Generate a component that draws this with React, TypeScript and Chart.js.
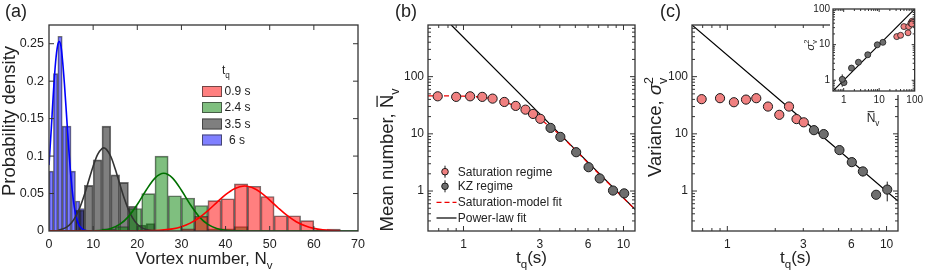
import React, { useEffect, useRef } from 'react';
import { Chart, registerables } from 'chart.js';

Chart.register(...registerables);

const FONT = "'Liberation Sans', Arial, Helvetica, sans-serif";
const INK = '#222222';

// ---------------- Panel (a): histograms (bin left edges, heights) ----------------
const blueBinStart = [0, 1, 2, 3, 4, 5, 6, 7];
const blueBinHeight = [0.08, 0.21, 0.26, 0.14, 0.14, 0.08, 0.04, 0.03];
const blueBinWidth = 1;

const grayBinStart = [6, 8, 10, 12, 14, 16, 18, 20, 22];
const grayBinHeight = [0.028, 0.061, 0.095, 0.14, 0.075, 0.065, 0.033, 0.008, 0.01];
const grayBinWidth = 2;

const greenBinStart = [12, 15, 18, 21, 24, 27, 30, 33, 36, 39, 42];
const greenBinHeight = [0.003, 0.006, 0.03, 0.05, 0.1, 0.047, 0.044, 0.034, 0.003, 0.003, 0.006];
const greenBinWidth = 3;

const redBinStart = [30, 33, 36, 39, 42, 45, 48, 51, 54, 57, 60, 63];
const redBinHeight = [0.003, 0.0195, 0.0405, 0.043, 0.063, 0.0597, 0.046, 0.0204, 0.0204, 0.0138, 0.0015, 0.0025];
const redBinWidth = 3;

// fitted curves
const fitBlueX = [0, 0.5, 1, 1.5, 2, 2.3, 2.7, 3, 3.5, 4, 4.5, 5, 5.5, 6, 6.5, 7, 8, 9, 10, 12];
const fitBlueY = [0.088, 0.135, 0.185, 0.226, 0.249, 0.253, 0.247, 0.232, 0.196, 0.152, 0.108, 0.07, 0.042, 0.023, 0.012, 0.006, 0.001, 0.0002, 0, 0];

const fitGrayX = [2, 4, 5, 6, 7, 8, 9, 10, 11, 12, 12.4, 13, 14, 15, 16, 17, 18, 19, 20, 21, 22, 24, 26];
const fitGrayY = [0.0005, 0.0052, 0.0104, 0.0189, 0.0314, 0.048, 0.0673, 0.0865, 0.102, 0.11, 0.111, 0.109, 0.0994, 0.0828, 0.0633, 0.0444, 0.0286, 0.0168, 0.0091, 0.0045, 0.002, 0.0003, 0];

const fitGreenX = [0, 8, 10, 12, 14, 16, 18, 20, 22, 24, 26, 28, 30, 32, 34, 36, 38, 40, 44, 50, 70];
const fitGreenY = [0, 0, 0.0003, 0.0011, 0.0034, 0.0088, 0.0192, 0.0353, 0.0544, 0.0706, 0.077, 0.0706, 0.0544, 0.0353, 0.0192, 0.0088, 0.0034, 0.0011, 0.0001, 0, 0];

const fitRedX = [0, 20, 25, 28, 30, 32, 34, 36, 38, 40, 42, 44.3, 46, 48, 50, 52, 54, 56, 58, 60, 62, 64, 66];
const fitRedY = [0, 0.0001, 0.0008, 0.0028, 0.0057, 0.0105, 0.0177, 0.0272, 0.038, 0.0485, 0.0565, 0.06, 0.058, 0.0513, 0.0413, 0.0304, 0.0204, 0.0124, 0.007, 0.0035, 0.0016, 0.0007, 0.0003];

const legendA = ['0.9 s', '2.4 s', '3.5 s', '6 s'];
const xTicksA = [0, 10, 20, 30, 40, 50, 60, 70];
const yTicksA = [0, 0.05, 0.1, 0.15, 0.2, 0.25];

// ---------------- Panels (b), (c) ----------------
const tSat = [0.69, 0.9, 1.1, 1.31, 1.52, 1.8, 2.12, 2.44, 2.72, 3.02];
const tKZ = [3.5, 4.03, 5.06, 6.05, 7.1, 8.6, 10.1];
const meanSat = [45.3, 44.3, 45.3, 44.3, 41.3, 36.1, 30.8, 26.5, 22.3, 18.3];
const meanKZ = [12.7, 8.85, 4.77, 2.61, 1.66, 1.02, 0.91];
const varSat = [40.4, 42, 35.7, 39.7, 42, 30, 21.5, 30, 18.1, 15.9];
const varKZ = [11.6, 9.9, 5.2, 3.2, 2.2, 0.86, 1.06];
const varSatErr = [2, 2, 2, 2, 2, 1.5, 1.2, 1.5, 1, 1];
const varKZErr = [0.8, 0.8, 0.7, 0.45, 0.4, 0.08, 0.4];

const fitSatT = [0.6, 0.7, 0.8, 0.9, 1, 1.2, 1.4, 1.6, 1.8, 2.0, 2.2, 2.5, 2.8, 3.0, 3.5, 4, 5, 6, 7, 8, 9, 10, 11.8];
const fitSatN = [46, 46, 46, 45.8, 45.5, 44.5, 42.5, 39.5, 36, 32.5, 29, 24.5, 20.5, 18.2, 13, 9.7, 5.2, 3.1, 2.0, 1.4, 1.0, 0.75, 0.48];

const powerBT = [0.838, 11.8];
const powerBN = [800, 0.477];
const powerCT = [0.6, 11.8];
const powerCV = [800, 0.67];

const insetSatN = [31.3, 40.2, 49.7, 65, 67.9, 78.4, 85, 88.8, 83];
const insetSatVar = [16.8, 18.3, 32.1, 21.5, 32.1, 40.2, 45.6, 42, 38];
const insetKZN = [12.7, 8.85, 4.77, 2.61, 1.66, 1.02, 0.91];
const insetKZVar = [11.6, 9.9, 5.2, 3.2, 2.2, 0.86, 1.06];
const insetKZErr = [0.8, 0.8, 0.7, 0.45, 0.4, 0.08, 0.4];
const insetLineX = [0.5, 100];
const insetLineY = [0.5, 100];

const xTicksLog = [1, 3, 6, 10];
const yTicksLog = [1, 10, 100];
const insetTicks = [1, 10, 100];
const legendB = ['Saturation regime', 'KZ regime', 'Saturation-model fit', 'Power-law fit'];

// ---------------- colours ----------------
const C_RED_BAR = 'rgba(255,0,0,0.5)';
const C_GREEN_BAR = 'rgba(0,128,0,0.5)';
const C_GRAY_BAR = 'rgba(0,0,0,0.5)';
const C_BLUE_BAR = 'rgba(0,0,255,0.5)';
const C_BAR_EDGE = 'rgba(40,40,40,0.65)';
const C_RED_PT = '#f08080';
const C_GRAY_PT = '#6e6e6e';
const C_PT_EDGE = '#1a1a1a';

// ---------------- panel (a) geometry ----------------
const A_LEFT = 49;
const A_RIGHT = 358;
const A_XMIN = 0;
const A_XMAX = 70;
const A_PX_PER_UNIT = (A_RIGHT - A_LEFT) / (A_XMAX - A_XMIN);

// ---------------- helpers ----------------
const pts = (xs: number[], ys: number[]) => xs.map((x, i) => ({ x, y: ys[i] }));
const bars = (starts: number[], heights: number[], w: number) =>
  starts.map((s, i) => ({ x: s + w / 2, y: heights[i] }));

type Seg = { t: string; sub?: boolean; sup?: boolean; bar?: boolean; keep?: boolean; italic?: boolean };

function segFont(s: Seg, size: number) {
  const sz = s.sub || s.sup ? size * 0.68 : size;
  return `${s.italic ? 'italic ' : ''}${sz}px ${FONT}`;
}

function drawRich(ctx: CanvasRenderingContext2D, segs: Seg[], x: number, y: number, size: number, align: 'left' | 'center', rotate = false) {
  ctx.save();
  ctx.translate(x, y);
  if (rotate) ctx.rotate(-Math.PI / 2);
  ctx.textBaseline = 'alphabetic';
  ctx.textAlign = 'left';
  ctx.fillStyle = INK;
  ctx.strokeStyle = INK;
  const widths = segs.map((s) => {
    ctx.font = segFont(s, size);
    return ctx.measureText(s.t).width;
  });
  const adv = (i: number) => Math.max(widths[i], i > 0 && segs[i - 1].keep ? widths[i - 1] : 0);
  let total = 0;
  for (let i = 0; i < segs.length; i++) if (!segs[i].keep) total += adv(i);
  let cx = align === 'center' ? -total / 2 : 0;
  for (let i = 0; i < segs.length; i++) {
    const s = segs[i];
    ctx.font = segFont(s, size);
    const dy = s.sub ? size * 0.3 : s.sup ? -size * 0.42 : 0;
    ctx.fillText(s.t, cx, dy);
    if (s.bar) {
      ctx.beginPath();
      ctx.lineWidth = Math.max(1, size * 0.07);
      ctx.moveTo(cx + 1, -size * 0.86);
      ctx.lineTo(cx + widths[i] - 1, -size * 0.86);
      ctx.stroke();
    }
    if (!s.keep) cx += adv(i);
  }
  ctx.restore();
}

type TickMark = { v: number; len: number };

function logMarks(min: number, max: number, major: number, minor: number): TickMark[] {
  const out: TickMark[] = [];
  for (let e = -2; e <= 3; e++) {
    for (let d = 1; d <= 9; d++) {
      const v = d * Math.pow(10, e);
      if (v > min * 1.0001 && v < max * 0.9999) out.push({ v, len: d === 1 ? major : minor });
    }
  }
  return out;
}

function frameAndTicks(chart: any, xt: TickMark[], yt: TickMark[]) {
  const { ctx, chartArea: a, scales } = chart;
  const sx = scales.x;
  const sy = scales.y;
  ctx.save();
  ctx.strokeStyle = '#333';
  ctx.lineWidth = 1;
  ctx.beginPath();
  for (const t of xt) {
    const p = sx.getPixelForValue(t.v);
    if (p <= a.left + 1 || p >= a.right - 1) continue;
    ctx.moveTo(p, a.bottom);
    ctx.lineTo(p, a.bottom - t.len);
    ctx.moveTo(p, a.top);
    ctx.lineTo(p, a.top + t.len);
  }
  for (const t of yt) {
    const p = sy.getPixelForValue(t.v);
    if (p <= a.top + 1 || p >= a.bottom - 1) continue;
    ctx.moveTo(a.left, p);
    ctx.lineTo(a.left + t.len, p);
    ctx.moveTo(a.right, p);
    ctx.lineTo(a.right - t.len, p);
  }
  ctx.stroke();
  ctx.lineWidth = 1.3;
  ctx.strokeRect(a.left, a.top, a.right - a.left, a.bottom - a.top);
  ctx.restore();
}

function vErrBars(chart: any, xs: number[], ys: number[], errs: number[], xAxis = 'x') {
  const { ctx, scales } = chart;
  const sx = scales[xAxis];
  const sy = scales.y;
  ctx.save();
  ctx.strokeStyle = '#1a1a1a';
  ctx.lineWidth = 1;
  ctx.beginPath();
  xs.forEach((x, i) => {
    const px = sx.getPixelForValue(x);
    ctx.moveTo(px, sy.getPixelForValue(ys[i] + errs[i]));
    ctx.lineTo(px, sy.getPixelForValue(Math.max(ys[i] - errs[i], 1e-6)));
  });
  ctx.stroke();
  ctx.restore();
}

function legendMarker(ctx: CanvasRenderingContext2D, x: number, y: number, fill: string) {
  ctx.save();
  ctx.strokeStyle = C_PT_EDGE;
  ctx.lineWidth = 1;
  ctx.beginPath();
  ctx.moveTo(x, y - 6);
  ctx.lineTo(x, y + 6);
  ctx.stroke();
  ctx.beginPath();
  ctx.arc(x, y, 3.3, 0, Math.PI * 2);
  ctx.fillStyle = fill;
  ctx.fill();
  ctx.stroke();
  ctx.restore();
}

const tickFont = (size: number) => ({ family: FONT, size });

function linAxis(min: number, max: number, ticks: number[], isX: boolean, size: number, fontSize: number, pad: number): any {
  return {
    type: 'linear',
    min,
    max,
    offset: false,
    grid: { display: false, drawTicks: false, offset: false },
    border: { display: false },
    ticks: { font: tickFont(fontSize), color: INK, padding: pad, autoSkip: false, maxRotation: 0, callback: (v: any) => String(v) },
    afterBuildTicks: (s: any) => {
      s.ticks = ticks.map((v) => ({ value: v }));
    },
    afterFit: (s: any) => {
      if (isX) s.height = size;
      else s.width = size;
    },
  };
}

function logAxis(min: number, max: number, ticks: number[], isX: boolean, size: number, fontSize: number, pad: number): any {
  return { ...linAxis(min, max, ticks, isX, size, fontSize, pad), type: 'logarithmic' };
}

// ---------------- chart configs ----------------
function configA(): any {
  const barDs = (label: string, starts: number[], heights: number[], w: number, color: string, order: number) => ({
    type: 'bar',
    label,
    data: bars(starts, heights, w),
    xAxisID: 'x',
    yAxisID: 'y',
    backgroundColor: color,
    borderColor: C_BAR_EDGE,
    borderWidth: 1,
    borderSkipped: 'start',
    grouped: false,
    barThickness: w * A_PX_PER_UNIT,
    order,
  });
  const fitDs = (label: string, xs: number[], ys: number[], color: string, order: number) => ({
    type: 'line',
    label,
    data: pts(xs, ys),
    xAxisID: 'x',
    yAxisID: 'y',
    borderColor: color,
    borderWidth: 1.6,
    pointRadius: 0,
    fill: false,
    cubicInterpolationMode: 'monotone',
    order,
  });
  const legendColors = [C_RED_BAR, C_GREEN_BAR, C_GRAY_BAR, C_BLUE_BAR];
  return {
    type: 'bar',
    data: {
      datasets: [
        barDs(legendA[3], blueBinStart, blueBinHeight, blueBinWidth, C_BLUE_BAR, 10),
        barDs(legendA[2], grayBinStart, grayBinHeight, grayBinWidth, C_GRAY_BAR, 9),
        barDs(legendA[1], greenBinStart, greenBinHeight, greenBinWidth, C_GREEN_BAR, 8),
        barDs(legendA[0], redBinStart, redBinHeight, redBinWidth, C_RED_BAR, 7),
        fitDs('fit 6 s', fitBlueX, fitBlueY, '#0000ff', 4),
        fitDs('fit 3.5 s', fitGrayX, fitGrayY, '#333333', 3),
        fitDs('fit 2.4 s', fitGreenX, fitGreenY, '#007000', 2),
        fitDs('fit 0.9 s', fitRedX, fitRedY, '#ff0000', 1),
      ],
    },
    options: {
      animation: false,
      responsive: false,
      devicePixelRatio: 1,
      layout: { padding: { left: A_LEFT - 40, right: 926 - A_RIGHT, top: 25, bottom: 24 } },
      plugins: { legend: { display: false }, tooltip: { enabled: false } },
      scales: {
        x: linAxis(A_XMIN, A_XMAX, xTicksA, true, 20, 12.5, 6),
        y: linAxis(0, 0.275, yTicksA, false, 40, 12.5, 5),
      },
    },
    plugins: [
      {
        id: 'decorA',
        afterDraw(chart: any) {
          const ctx = chart.ctx as CanvasRenderingContext2D;
          frameAndTicks(
            chart,
            xTicksA.map((v) => ({ v, len: 5 })),
            yTicksA.map((v) => ({ v, len: 5 }))
          );
          // legend
          drawRich(ctx, [{ t: 't' }, { t: 'q', sub: true }], 222, 74, 12, 'left');
          const rowTop = [86, 102, 118.5, 134.5];
          legendA.forEach((lab, i) => {
            ctx.save();
            ctx.fillStyle = '#fff';
            ctx.fillRect(202, rowTop[i], 20, 11);
            ctx.fillStyle = legendColors[i];
            ctx.fillRect(202, rowTop[i], 20, 11);
            ctx.strokeStyle = C_BAR_EDGE;
            ctx.lineWidth = 1;
            ctx.strokeRect(202.5, rowTop[i] + 0.5, 19, 10);
            ctx.fillStyle = INK;
            ctx.font = `12px ${FONT}`;
            ctx.textBaseline = 'middle';
            ctx.textAlign = 'left';
            ctx.fillText(lab, i === 3 ? 229 : 224.5, rowTop[i] + 6);
            ctx.restore();
          });
          // titles
          drawRich(ctx, [{ t: 'Vortex number, N' }, { t: 'v', sub: true }], 204, 264, 17, 'center');
          drawRich(ctx, [{ t: 'Probability density' }], 15, 121, 18.5, 'center', true);
          drawRich(ctx, [{ t: '(a)' }], 5, 17, 18, 'left');
        },
      },
    ],
  };
}

function scatterDs(label: string, xs: number[], ys: number[], fill: string, r: number, bw: number) {
  return {
    label,
    data: pts(xs, ys),
    backgroundColor: fill,
    borderColor: C_PT_EDGE,
    borderWidth: bw,
    pointRadius: r,
    showLine: false,
    order: 0,
  };
}

function lineDs(label: string, xs: number[], ys: number[], color: string, width: number, dash: number[], order: number) {
  return {
    label,
    data: pts(xs, ys),
    showLine: true,
    pointRadius: 0,
    borderColor: color,
    borderWidth: width,
    borderDash: dash,
    backgroundColor: color,
    cubicInterpolationMode: 'monotone',
    fill: false,
    order,
  };
}

const baseOpts = (padding: any) => ({
  animation: false,
  responsive: false,
  devicePixelRatio: 1,
  layout: { padding },
  plugins: { legend: { display: false }, tooltip: { enabled: false } },
});

function configB(): any {
  return {
    type: 'scatter',
    data: {
      datasets: [
        scatterDs(legendB[0], tSat, meanSat, C_RED_PT, 4.6, 1),
        scatterDs(legendB[1], tKZ, meanKZ, C_GRAY_PT, 4.6, 1),
        lineDs(legendB[2], fitSatT, fitSatN, '#ee0000', 1.3, [5, 3], 1),
        lineDs(legendB[3], powerBT, powerBN, '#000000', 1.2, [], 2),
      ],
    },
    options: {
      ...baseOpts({ left: 388, right: 291, top: 25, bottom: 24 }),
      scales: {
        x: logAxis(0.6, 11.8, xTicksLog, true, 20, 12, 6),
        y: logAxis(0.2, 800, yTicksLog, false, 40, 12, 4),
      },
    },
    plugins: [
      {
        id: 'decorB',
        afterDraw(chart: any) {
          const ctx = chart.ctx as CanvasRenderingContext2D;
          frameAndTicks(chart, logMarks(0.6, 11.8, 5, 3), logMarks(0.2, 800, 5, 3));
          // legend
          const rows = [171.7, 186.3, 202.3, 218];
          legendMarker(ctx, 445, rows[0], C_RED_PT);
          legendMarker(ctx, 445, rows[1], C_GRAY_PT);
          ctx.save();
          ctx.lineWidth = 1.3;
          ctx.strokeStyle = '#ee0000';
          ctx.setLineDash([5, 3]);
          ctx.beginPath();
          ctx.moveTo(436.5, rows[2]);
          ctx.lineTo(456.5, rows[2]);
          ctx.stroke();
          ctx.setLineDash([]);
          ctx.strokeStyle = '#000';
          ctx.lineWidth = 1.2;
          ctx.beginPath();
          ctx.moveTo(436.5, rows[3]);
          ctx.lineTo(456.5, rows[3]);
          ctx.stroke();
          ctx.fillStyle = INK;
          ctx.font = `12px ${FONT}`;
          ctx.textBaseline = 'middle';
          ctx.textAlign = 'left';
          legendB.forEach((lab, i) => ctx.fillText(lab, 457.7, rows[i] + 0.5));
          ctx.restore();
          drawRich(ctx, [{ t: 't' }, { t: 'q', sub: true }, { t: '(s)' }], 531.5, 263, 17, 'center');
          drawRich(ctx, [{ t: 'Mean number, ' }, { t: 'N', bar: true }, { t: 'v', sub: true }], 393, 160, 18.5, 'center', true);
          drawRich(ctx, [{ t: '(b)' }], 395, 17, 18, 'left');
        },
      },
    ],
  };
}

function configC(): any {
  return {
    type: 'scatter',
    data: {
      datasets: [
        scatterDs('Saturation regime', tSat, varSat, C_RED_PT, 4.6, 1),
        scatterDs('KZ regime', tKZ, varKZ, C_GRAY_PT, 4.6, 1),
        lineDs('Power-law fit', powerCT, powerCV, '#000000', 1.2, [], 2),
      ],
    },
    options: {
      ...baseOpts({ left: 652, right: 28, top: 25, bottom: 24 }),
      scales: {
        x: logAxis(0.6, 11.8, xTicksLog, true, 20, 12, 6),
        y: logAxis(0.2, 800, yTicksLog, false, 40, 12, 4),
      },
    },
    plugins: [
      {
        id: 'decorC',
        beforeDatasetsDraw(chart: any) {
          vErrBars(chart, tSat, varSat, varSatErr);
          vErrBars(chart, tKZ, varKZ, varKZErr);
        },
        afterDraw(chart: any) {
          const ctx = chart.ctx as CanvasRenderingContext2D;
          frameAndTicks(chart, logMarks(0.6, 11.8, 5, 3), logMarks(0.2, 800, 5, 3));
          drawRich(ctx, [{ t: 't' }, { t: 'q', sub: true }, { t: '(s)' }], 795.5, 263, 17, 'center');
          drawRich(
            ctx,
            [{ t: 'Variance, ' }, { t: 'σ', italic: true }, { t: '2', sup: true, keep: true }, { t: 'v', sub: true }],
            661,
            127,
            18.5,
            'center',
            true
          );
          drawRich(ctx, [{ t: '(c)' }], 660, 17, 18, 'left');
        },
      },
    ],
  };
}

function configInset(): any {
  return {
    type: 'scatter',
    data: {
      datasets: [
        scatterDs('Saturation regime', insetSatN, insetSatVar, C_RED_PT, 3, 0.8),
        scatterDs('KZ regime', insetKZN, insetKZVar, C_GRAY_PT, 3, 0.8),
        lineDs('Power-law fit', insetLineX, insetLineY, '#000000', 1.1, [], 2),
      ],
    },
    options: {
      ...baseOpts({ left: 813, right: 8, top: 6, bottom: 170 }),
      scales: {
        x: logAxis(0.5, 100, insetTicks, true, 14, 10, 3),
        y: logAxis(0.5, 100, insetTicks, false, 20, 10, 3),
      },
    },
    plugins: [
      {
        id: 'decorInset',
        beforeDraw(chart: any) {
          const ctx = chart.ctx as CanvasRenderingContext2D;
          ctx.save();
          ctx.fillStyle = '#ffffff';
          ctx.fillRect(830, 0, 96, 95);
          ctx.restore();
        },
        beforeDatasetsDraw(chart: any) {
          vErrBars(chart, insetKZN, insetKZVar, insetKZErr);
        },
        afterDraw(chart: any) {
          const ctx = chart.ctx as CanvasRenderingContext2D;
          frameAndTicks(chart, logMarks(0.5, 100, 3, 2), logMarks(0.5, 100, 3, 2));
          drawRich(ctx, [{ t: 'N', bar: true }, { t: 'v', sub: true }], 873, 122, 12, 'center');
          drawRich(ctx, [{ t: 'σ', italic: true }, { t: '2', sup: true, keep: true }, { t: 'v', sub: true }], 814, 45, 11, 'center', true);
        },
      },
    ],
  };
}

export default function App() {
  const ra = useRef<HTMLCanvasElement>(null);
  const rb = useRef<HTMLCanvasElement>(null);
  const rc = useRef<HTMLCanvasElement>(null);
  const ri = useRef<HTMLCanvasElement>(null);

  useEffect(() => {
    const charts = [
      new Chart(ra.current as HTMLCanvasElement, configA()),
      new Chart(rb.current as HTMLCanvasElement, configB()),
      new Chart(rc.current as HTMLCanvasElement, configC()),
      new Chart(ri.current as HTMLCanvasElement, configInset()),
    ];
    return () => charts.forEach((c) => c.destroy());
  }, []);

  const cs: React.CSSProperties = { position: 'absolute', left: 0, top: 0, width: 926, height: 275 };
  return (
    <div style={{ position: 'fixed', left: 0, top: 0, width: 926, height: 275, background: '#ffffff' }}>
      <canvas ref={ra} width={926} height={275} style={cs} />
      <canvas ref={rb} width={926} height={275} style={cs} />
      <canvas ref={rc} width={926} height={275} style={cs} />
      <canvas ref={ri} width={926} height={275} style={cs} />
    </div>
  );
}
